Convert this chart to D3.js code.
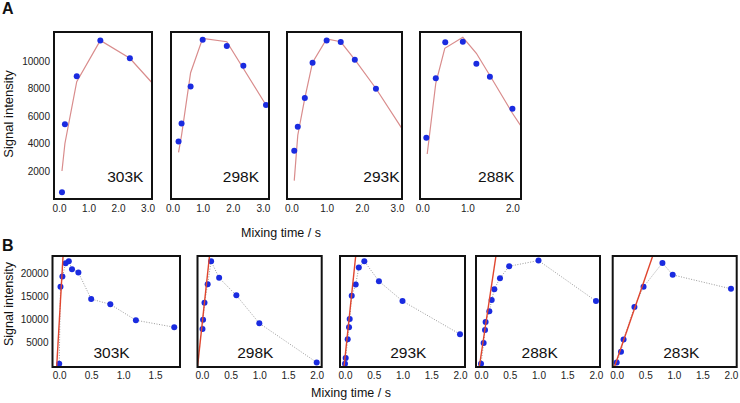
<!DOCTYPE html>
<html><head><meta charset="utf-8">
<script src="https://cdn.jsdelivr.net/npm/d3@7"></script>
<style>
body{margin:0;background:#fff;}
svg{display:block;font-family:"Liberation Sans",Arial,Helvetica,sans-serif;}
</style></head>
<body><svg id="c" width="740" height="403"></svg>
<script>
// ---------- Panel A data ----------
const aTemps = ["303K","298K","293K","288K"];
const aX = [
  [0.1, 0.2, 0.6, 1.4, 2.4],
  [0.2, 0.3, 0.6, 1.0, 1.8, 2.35, 3.1],
  [0.08, 0.18, 0.38, 0.6, 1.0, 1.4, 1.8, 2.4],
  [0.09, 0.3, 0.51, 0.9, 1.2, 1.5, 2.0]
];
const aY = [
  [450, 5400, 8900, 11500, 10200],
  [4150, 5450, 8150, 11550, 11100, 9650, 6800],
  [3480, 5220, 7310, 9880, 11500, 11380, 10100, 7985],
  [4420, 8740, 11360, 11400, 9800, 8860, 6530]
];
const aFitX = [
  [0.1, 0.2, 0.6, 1.4, 2.4, 3.15],
  [0.2, 0.3, 0.6, 1.0, 1.8, 3.1],
  [0.08, 0.18, 0.38, 0.6, 1.0, 1.4, 1.8, 2.4, 3.14],
  [0.11, 0.3, 0.5, 0.9, 1.2, 1.5, 2.0, 2.19]
];
const aFitY = [
  [2000, 4000, 8500, 11500, 10200, 8420],
  [3350, 4600, 9150, 11650, 11400, 6800],
  [1300, 4600, 7300, 9900, 11600, 11400, 10100, 8000, 5080],
  [3240, 8380, 10920, 11720, 10560, 8950, 6200, 5270]
];
const aXTicks = [[0,1,2,3],[0,1,2,3],[0,1,2,3],[0,1,2]];
const aYTicks = [2000, 4000, 6000, 8000, 10000];

// ---------- Panel B data ----------
const bTemps = ["303K","298K","293K","288K","283K"];
const bX = [
  [0, 0.02, 0.05, 0.1, 0.15, 0.2, 0.3, 0.5, 0.8, 1.2, 1.8],
  [0.01, 0.02, 0.045, 0.1, 0.16, 0.3, 0.6, 1.0, 2.0],
  [0, 0.012, 0.047, 0.07, 0.082, 0.117, 0.186, 0.24, 0.336, 0.59, 1.0, 2.0],
  [0, 0.046, 0.07, 0.08, 0.145, 0.186, 0.232, 0.33, 0.49, 1.0, 2.0],
  [0, 0.075, 0.12, 0.31, 0.47, 0.8, 0.98, 2.0]
];
const bY = [
  [200, 17070, 19350, 22250, 22690, 20940, 20220, 14390, 13230, 9740, 8210],
  [7840, 9870, 13580, 17660, 22690, 19040, 15200, 9080, 480],
  [200, 1440, 5590, 8210, 10020, 15110, 17600, 21310, 22690, 18320, 13950, 6680],
  [200, 4720, 7620, 9370, 11700, 14170, 16570, 18980, 21590, 22840, 13950],
  [480, 2820, 5500, 12640, 17080, 22320, 19700, 16640]
];
const bFitX = [[-0.04, 0.06],[-0.077, 0.132],[-0.017, 0.186],[-0.03, 0.26],[-0.04, 0.63]];
const bFitY = [[-520, 23840],[-520, 23840],[-520, 23840],[-520, 23840],[-520, 23840]];
const bXTicks = [[0,0.5,1,1.5],[0,0.5,1,1.5,2],[0,0.5,1,1.5,2],[0,0.5,1,1.5,2],[0,0.5,1,1.5,2]];
const bYTicks = [5000, 10000, 15000, 20000];

// ---------- layout ----------
const aBoxes = [[54,152],[171,269],[287,402],[420,521]];
const aTop = 32, aBottom = 199;
const aXDom = [[-0.17,3.15],[-0.05,3.2],[-0.126,3.14],[-0.05,2.19]];
const aYDom = [-36, 12110];
const aLabelX = [2.86, 2.87, 3.07, 2.04];

const bBoxes = [[52.5,180],[197.5,321.7],[340,465],[476,600],[612.7,736.7]];
const bTop = 256, bBottom = 367;
const bXDom = [[-0.105,1.89],[-0.077,2.087],[-0.087,2.087],[-0.087,2.07],[-0.07,2.1]];
const bYDom = [-520, 23840];
const bLabelX = [0.82, 0.93, 1.1, 1.02, 1.13];

const svg = d3.select("#c");
const dotColor = "#1a2be0";

function panel(i, box, top, bottom, xDom, yDom, xTicks, yTicks, showY, pts, fit, fitStyle, label, labelPos, labelAnchor, labelBaseline, connect, xPad, xFmt) {
  const x = d3.scaleLinear().domain(xDom).range(box);
  const y = d3.scaleLinear().domain(yDom).range([bottom, top]);
  const g = svg.append("g");
  const cid = "clip" + Math.random().toString(36).slice(2);
  g.append("clipPath").attr("id", cid).append("rect")
    .attr("x", box[0]).attr("y", top).attr("width", box[1]-box[0]).attr("height", bottom-top);
  // x axis
  const xa = g.append("g").attr("transform", `translate(0,${bottom})`)
    .call(d3.axisBottom(x).tickValues(xTicks).tickFormat(d3.format(xFmt)).tickSize(0).tickPadding(xPad));
  xa.select(".domain").remove();
  xa.selectAll("text").attr("font-size", 10).attr("fill", "#222").attr("font-family", "Liberation Sans, Arial, sans-serif");
  if (showY) {
    const ya = g.append("g").attr("transform", `translate(${box[0]},0)`)
      .call(d3.axisLeft(y).tickValues(yTicks).tickFormat(d3.format("d")).tickSize(0).tickPadding(4));
    ya.select(".domain").remove();
    ya.selectAll("text").attr("font-size", 10).attr("fill", "#222").attr("font-family", "Liberation Sans, Arial, sans-serif");
  }
  const inner = g.append("g").attr("clip-path", `url(#${cid})`);
  if (connect) {
    inner.append("path").datum(pts)
      .attr("d", d3.line().x(d => x(d[0])).y(d => y(d[1])))
      .attr("fill", "none").attr("stroke", "#9a9a9a").attr("stroke-width", 1).attr("stroke-dasharray", "1,1.6");
  }
  if (fitStyle.under) {
    inner.append("path").datum(fit)
      .attr("d", d3.line().x(d => x(d[0])).y(d => y(d[1])))
      .attr("fill", "none").attr("stroke", fitStyle.color).attr("stroke-width", fitStyle.width);
  }
  inner.selectAll("circle").data(pts).join("circle")
    .attr("cx", d => x(d[0])).attr("cy", d => y(d[1])).attr("r", 3)
    .attr("fill", dotColor);
  if (!fitStyle.under) {
    inner.append("path").datum(fit)
      .attr("d", d3.line().x(d => x(d[0])).y(d => y(d[1])))
      .attr("fill", "none").attr("stroke", fitStyle.color).attr("stroke-width", fitStyle.width);
  }
  g.append("text").attr("x", x(labelPos)).attr("y", labelBaseline)
    .attr("text-anchor", labelAnchor).attr("font-size", 15.5).attr("fill", "#111").text(label);
  g.append("rect").attr("x", box[0]).attr("y", top).attr("width", box[1]-box[0]).attr("height", bottom-top)
    .attr("fill", "none").attr("stroke", "#111").attr("stroke-width", 2);
}

aTemps.forEach((t, i) => {
  const pts = aX[i].map((v, j) => [v, aY[i][j]]);
  const fit = aFitX[i].map((v, j) => [v, aFitY[i][j]]);
  panel(i, aBoxes[i], aTop, aBottom, aXDom[i], aYDom, aXTicks[i], aYTicks, i === 0,
    pts, fit, {color: "#d98c8c", width: 1.2, under: true}, t, aLabelX[i], "end", 182, false, 6, ".1f");
});
bTemps.forEach((t, i) => {
  const pts = bX[i].map((v, j) => [v, bY[i][j]]);
  const fit = bFitX[i].map((v, j) => [v, bFitY[i][j]]);
  panel(i, bBoxes[i], bTop, bBottom, bXDom[i], bYDom, bXTicks[i], bYTicks, i === 0,
    pts, fit, {color: "#e0452e", width: 1.4, under: false}, t, bLabelX[i], "middle", 358, true, 5, ".1f");
});

// panel letters and axis titles
svg.append("text").attr("x", 2).attr("y", 14).attr("font-size", 16).attr("font-weight", "bold").attr("fill", "#111").text("A");
svg.append("text").attr("x", 2).attr("y", 251).attr("font-size", 16).attr("font-weight", "bold").attr("fill", "#111").text("B");
svg.append("text").attr("transform", "translate(12.5,114) rotate(-90)").attr("text-anchor", "middle")
  .attr("font-size", 13).attr("fill", "#111").text("Signal intensity");
svg.append("text").attr("transform", "translate(12.5,304) rotate(-90)").attr("text-anchor", "middle")
  .attr("font-size", 12.5).attr("fill", "#111").text("Signal intensity");
svg.append("text").attr("x", 281).attr("y", 236.5).attr("text-anchor", "middle")
  .attr("font-size", 12.5).attr("fill", "#111").text("Mixing time / s");
svg.append("text").attr("x", 351).attr("y", 397).attr("text-anchor", "middle")
  .attr("font-size", 12.5).attr("fill", "#111").text("Mixing time / s");
</script></body></html>
